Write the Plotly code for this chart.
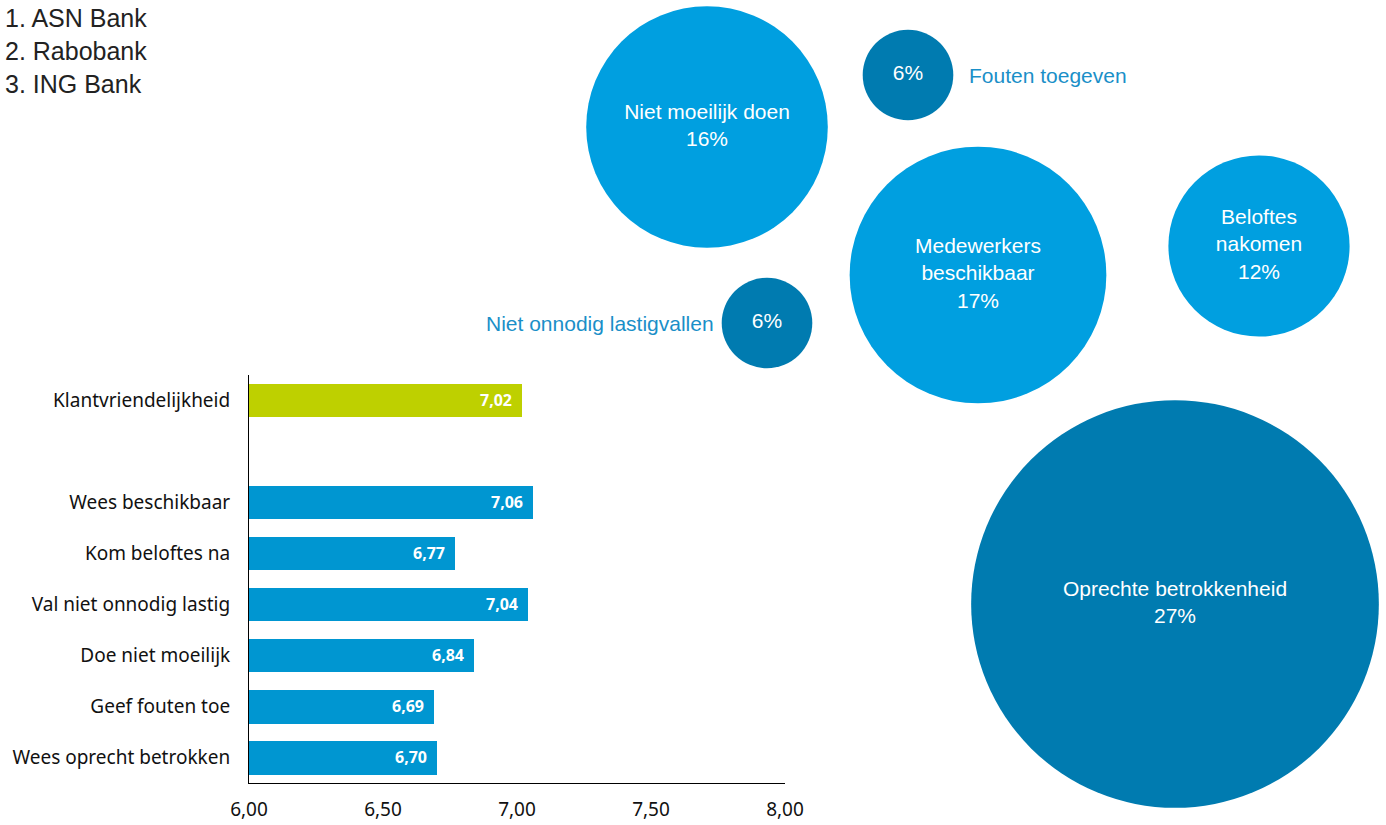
import plotly.graph_objects as go

# --- bar chart data (score per aspect) ---
bar_labels = ["Wees oprecht betrokken", "Geef fouten toe", "Doe niet moeilijk",
              "Val niet onnodig lastig", "Kom beloftes na", "Wees beschikbaar",
              "", "Klantvriendelijkheid"]
bar_values = [6.70, 6.69, 6.84, 7.04, 6.77, 7.06, None, 7.02]
bar_colors = ["#0096D1"] * 6 + ["#0096D1", "#BED000"]
x_ticks = [6.0, 6.5, 7.0, 7.5, 8.0]

# --- bubble data (share per theme) ---
bubble_names = ["Niet moeilijk doen", "Fouten toegeven", "Medewerkers<br>beschikbaar",
                "Beloftes<br>nakomen", "Niet onnodig lastigvallen", "Oprechte betrokkenheid"]
bubble_pct = [16, 6, 17, 12, 6, 27]
bubble_x = [707, 908, 978, 1259, 767, 1175]
bubble_y = [127, 75, 275, 246, 323, 604]
bubble_dark = [False, True, False, False, True, True]
bubble_label_outside = [None, "right", None, None, "left", None]

ranking = ["1. ASN Bank", "2. Rabobank", "3. ING Bank"]

W, H = 1386, 825
LIGHT = "#009FE0"
DARK = "#007BB0"
LABEL_BLUE = "#1A8FC8"
BAR_FONT = "Noto Sans"
BUB_FONT = "Liberation Sans"
px_per_pct = 15.1

fig = go.Figure()

ys = list(range(len(bar_labels)))
fig.add_trace(go.Bar(
    x=[v if v is not None else 0 for v in bar_values],
    y=ys, orientation="h", base=0,
    marker=dict(color=bar_colors, line=dict(width=0)),
    width=0.65, xaxis="x", yaxis="y", hoverinfo="skip", showlegend=False,
))

annotations = []
for yv, v in zip(ys, bar_values):
    if v is None:
        continue
    annotations.append(dict(
        x=v, y=yv, xref="x", yref="y", text=f"<b>{v:.2f}".replace(".", ",") + "</b>",
        showarrow=False, xanchor="right", xshift=-8,
        font=dict(family=BAR_FONT, size=16, color="white"),
    ))

# bubbles
texts = []
for n, p, out in zip(bubble_names, bubble_pct, bubble_label_outside):
    texts.append(f"{p}%" if out else f"{n}<br>{p}%")
fig.add_trace(go.Scatter(
    x=bubble_x, y=bubble_y, mode="markers+text", xaxis="x2", yaxis="y2",
    text=texts, textposition="middle center",
    textfont=dict(family=BUB_FONT, size=21, color="white"),
    marker=dict(size=bubble_pct, sizemode="diameter", sizeref=1 / px_per_pct,
                color=[DARK if d else LIGHT for d in bubble_dark],
                line=dict(width=0), opacity=1),
    cliponaxis=False, hoverinfo="skip", showlegend=False,
))

# side labels next to the small bubbles
for n, p, bx, by, out in zip(bubble_names, bubble_pct, bubble_x, bubble_y, bubble_label_outside):
    if not out:
        continue
    r = p * px_per_pct / 2
    gap = 14 if out == "right" else 6
    annotations.append(dict(
        x=bx + r + gap if out == "right" else bx - r - gap, y=by,
        xref="x2", yref="y2", text=n, showarrow=False,
        xanchor="left" if out == "right" else "right", yanchor="middle",
        font=dict(family=BUB_FONT, size=21, color=LABEL_BLUE),
    ))

for i, t in enumerate(ranking):
    annotations.append(dict(
        x=3 / W, y=1 - (18 + 33 * i) / H, xref="paper", yref="paper",
        text=t, showarrow=False, xanchor="left", yanchor="middle",
        font=dict(family=BUB_FONT, size=25, color="#222222"),
    ))

fig.update_layout(
    width=W, height=H, margin=dict(l=0, r=0, t=0, b=0, autoexpand=False),
    paper_bgcolor="white", plot_bgcolor="rgba(0,0,0,0)",
    separators=",.",
    annotations=annotations,
    xaxis=dict(domain=[249 / W, 785 / W], range=[6, 8], tickvals=x_ticks,
               tickformat=".2f", showgrid=False, zeroline=False,
               showline=True, linecolor="black", linewidth=1, ticks="",
               ticklabelstandoff=9, automargin=False,
               tickfont=dict(family=BAR_FONT, size=19, color="#111111"),
               fixedrange=True),
    yaxis=dict(domain=[(H - 783) / H, (H - 374.5) / H], range=[-0.5, 7.5],
               tickvals=ys, ticktext=bar_labels, showgrid=False, zeroline=False,
               showline=True, linecolor="black", linewidth=1, ticks="",
               ticklabelstandoff=14, automargin=False,
               tickfont=dict(family=BAR_FONT, size=19, color="#111111")),
    xaxis2=dict(domain=[0, 1], range=[0, W], visible=False, anchor="y2",
                automargin=False),
    yaxis2=dict(domain=[0, 1], range=[H, 0], visible=False, anchor="x2",
                automargin=False),
    bargap=0,
)

fig.write_html("out.html")
